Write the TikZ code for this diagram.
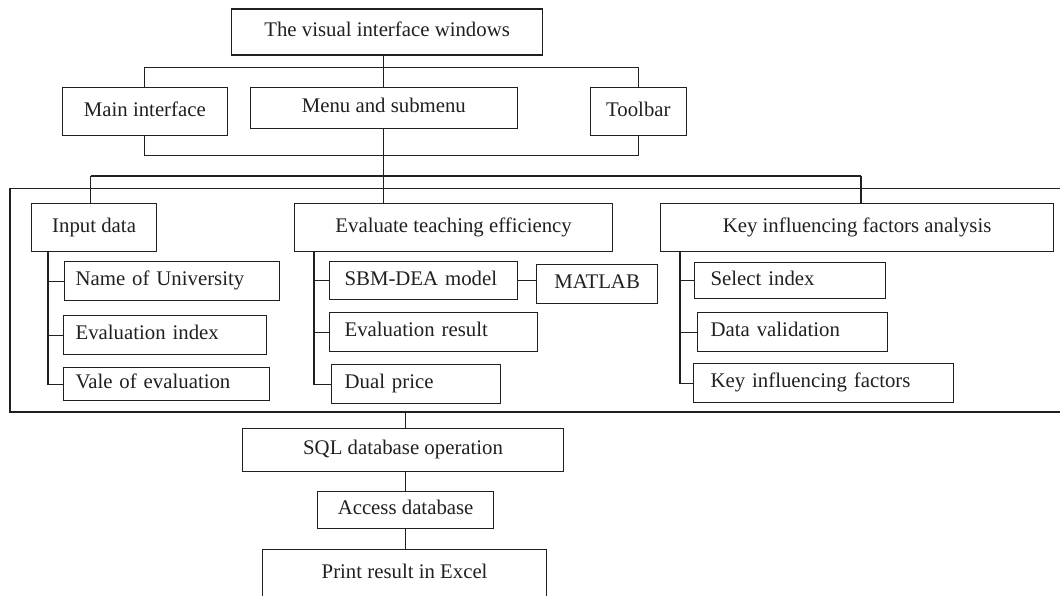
\documentclass[tikz,border=0pt]{standalone}
\usepackage{fontspec}
\setmainfont{Liberation Serif}
\definecolor{ink}{HTML}{231F20}
\begin{document}
\begin{tikzpicture}[x=1pt,y=-1pt,
  box/.style={draw=ink, line width=1.2pt, rectangle, inner sep=0pt, anchor=north west,
    text height=13.7pt, text depth=4.2pt, font=\fontsize{20.8}{24}\selectfont, text=ink},
  lbox/.style={box, align=left},
  link/.style={draw=ink, line width=1.1pt}]
\useasboundingbox (0,0) rectangle (1060,596);
\clip (0,0) rectangle (1060,596);
\fill[white] (0,0) rectangle (1060,596);

% top level
\node[box, minimum width=311pt, minimum height=46pt] (T) at (231,8.5) {The visual interface windows};
\node[box, minimum width=164.5pt, minimum height=48pt] (Main) at (62,87) {Main interface};
\node[box, minimum width=267.5pt, minimum height=41pt] (Menu) at (249.5,87) {Menu and submenu};
\node[box, minimum width=95.5pt, minimum height=48pt] (Tool) at (590,87) {Toolbar};

% frame
\draw[link] (1075,188.5) -- (10,188.5) -- (10,412) -- (1075,412);
\coordinate (fb) at (0,412);

% second level
\node[box, minimum width=125pt, minimum height=48pt] (Input) at (31,203) {Input data};
\node[box, minimum width=318pt, minimum height=48pt] (Eval) at (294,203) {Evaluate teaching efficiency};
\node[box, minimum width=393pt, minimum height=48pt] (Key) at (660,203) {Key influencing factors analysis};

% input sub boxes
\node[lbox, inner xsep=11pt, text width=193pt, minimum height=39pt] (Nu) at (64,261) {Name of University};
\node[lbox, inner xsep=12pt, text width=179pt, minimum height=39pt] (Ei) at (63,315) {Evaluation index};
\node[lbox, inner xsep=12pt, text width=182pt, minimum height=33pt] (Ve) at (63,367) {Vale of evaluation};

% evaluate sub boxes
\node[lbox, inner xsep=15pt, text width=158pt, minimum height=38pt] (Sbm) at (329,261) {SBM-DEA model};
\node[box, minimum width=121pt, minimum height=39pt] (Mat) at (536,264) {MATLAB};
\node[lbox, inner xsep=15pt, text width=178pt, minimum height=39pt] (Er) at (329,312) {Evaluation result};
\node[lbox, inner xsep=13pt, text width=143pt, minimum height=39pt] (Dp) at (331,364) {Dual price};

% key sub boxes
\node[lbox, inner xsep=16pt, text width=159pt, minimum height=36pt] (Sel) at (694,262) {Select index};
\node[lbox, inner xsep=13pt, text width=164pt, minimum height=39pt] (Dv) at (697,312) {Data validation};
\node[lbox, inner xsep=17pt, text width=226pt, minimum height=39pt] (Kf) at (693,363) {Key influencing factors};

% bottom chain
\node[box, minimum width=321pt, minimum height=43pt] (Sql) at (242,428) {SQL database operation};
\node[box, minimum width=176pt, minimum height=37pt] (Acc) at (317,491) {Access database};
\node[box, minimum width=284pt, minimum height=48pt] (Prt) at (262,549) {Print result in Excel};

% connectors top
\draw[link] (Menu.north) -- (Menu.north |- T.south);
\draw[link] (Main.north) -- ++(0,-19.5) -| (Tool.north);
\draw[link] (Main.south) -- ++(0,19) -| (Tool.south);
\draw[link] (Menu.south) -- (Menu.south |- Eval.north);
\coordinate (bIn) at (90.7,176);
\coordinate (bKey) at (861,176);
\draw[link] (bIn) -- (bKey);
\draw[link] (bIn) -- (bIn |- Input.north);
\draw[link] (bKey) -- (bKey |- Key.north);

% sub branches
\coordinate (iA) at (48,251);
\draw[link] (iA) |- (Nu.west);
\draw[link] (iA) |- (Ei.west);
\draw[link] (iA) |- (Ve.west);
\coordinate (eA) at (314,251);
\draw[link] (eA) |- (Sbm.west);
\draw[link] (eA) |- (Er.west);
\draw[link] (eA) |- (Dp.west);
\coordinate (kA) at (680,251);
\draw[link] (kA) |- (Sel.west);
\draw[link] (kA) |- (Dv.west);
\draw[link] (kA) |- (Kf.west);
\draw[link] (Sbm.east) -- (Sbm.east -| Mat.west);

% bottom connectors
\draw[link] (Sql.north -| Acc.north) -- (Acc.north |- fb);
\draw[link] (Sql.south -| Acc.north) -- (Acc.north);
\draw[link] (Acc.south) -- (Acc.south |- Prt.north);
\end{tikzpicture}
\end{document}
